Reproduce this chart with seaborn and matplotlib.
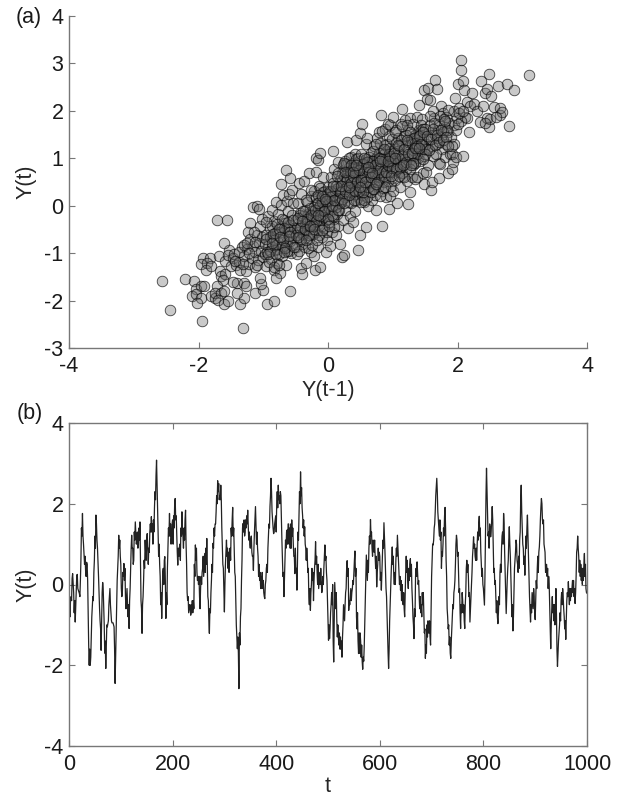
#!/usr/bin/env python3

import pandas as pd
import matplotlib
matplotlib.use('Agg')
import matplotlib.pyplot as plt
import seaborn as sns

# Y(t) against Y(t-1), one x band at a time
prev_tail = [-2.57,-2.44,-2.21,-1.94,-2.07,-2.04,-1.96,-1.91,-2.10,-2.04,
             -1.96,-2.02,-1.93,-1.96,-1.82,-1.87,-1.88,-1.81,-1.80,-1.74,
             -1.68,-1.67,-1.65,-1.59,-1.62,-1.71,-1.74,-1.66,-1.60,-1.70,
             -1.60,-1.54,-1.59,-1.53,-1.54,-1.71,-1.56,-1.60]
curr_tail = [-1.59,-2.20,-1.55,-2.43,-1.59,-1.76,-1.70,-1.70,-1.90,-1.87,
             -1.94,-2.05,-1.10,-1.23,-1.10,-1.21,-1.35,-1.28,-1.91,-1.94,
             -1.07,-1.38,-1.49,-1.45,-1.56,-1.69,-1.84,-1.83,-1.80,-1.98,
             -2.08,-2.01,-1.17,-0.93,-1.03,-0.31,-0.30,-0.78]

prev_low = [-1.36,-1.30,-1.32,-1.41,-1.41,-1.47,-1.30,-1.27,-1.13,-1.01,
            -1.04,-1.21,-1.23,-1.16,-1.09,-1.07,-1.50,-1.46,-1.42,-1.45,
            -1.38,-1.36,-1.33,-1.30,-1.27,-1.25,-1.22,-1.20,-1.18,-1.16,
            -1.13,-1.12,-1.10,-1.08,-1.06,-1.05,-1.03,-1.02,-1.00,-1.32,
            -1.37,-1.30,-1.43,-1.25,-1.15,-1.10,-1.05,-1.22,-1.13,-1.02]
curr_low = [-2.08,-1.94,-2.57,-1.83,-1.63,-1.60,-1.62,-1.70,-1.83,-1.77,
            -1.66,-0.37,-0.56,-0.02,-0.01,-0.06,-1.28,-1.10,-1.25,-1.02,
            -1.18,-1.35,-0.88,-1.05,-1.38,-0.92,-1.22,-0.70,-1.10,-0.85,
            -1.30,-0.98,-0.62,-1.15,-0.78,-0.42,-0.95,-0.65,-1.08,-1.22,
            -0.98,-0.82,-1.16,-0.78,-0.55,-1.25,-1.52,-1.0,-0.76,-0.28]

prev_c = [-0.98,-0.96,-0.95,-0.93,-0.92,-0.90,-0.88,-0.87,-0.85,-0.84,
          -0.83,-0.82,-0.80,-0.79,-0.78,-0.77,-0.75,-0.74,-0.73,-0.72,
          -0.71,-0.70,-0.69,-0.68,-0.67,-0.66,-0.65,-0.64,-0.63,-0.62,
          -0.61,-0.60,-0.60,-0.58,-0.57,-0.56,-0.55,-0.54,-0.53,-0.52,
          -0.98,-0.94,-0.90,-0.86,-0.82,-0.78,-0.74,-0.70,-0.66,-0.62,
          -0.96,-0.91,-0.87,-0.83,-0.79,-0.76,-0.71,-0.68,-0.64,-0.59,
          -0.80,-0.94,-0.84,-0.59,-0.65,-0.59,-0.73,-0.55,-0.84,-0.76]
curr_c = [-1.02,-0.62,-1.28,-0.21,-0.85,-0.47,-1.12,-0.08,-0.70,-1.36,
          -0.33,-0.94,0.08,-0.55,-1.20,-0.18,-0.78,-1.42,0.02,-0.42,
          -1.05,-0.66,0.22,-0.30,-0.88,-0.52,-1.24,0.10,-0.74,-0.12,
          -0.96,-0.40,0.24,-0.62,-1.00,-0.20,-0.82,0.05,-0.48,-0.68,
          -0.80,-0.98,-0.66,-0.42,-0.58,-0.92,-0.56,-0.84,-0.36,-0.50,
          -0.35,-1.18,-0.88,-0.72,-0.38,-1.02,-0.28,-0.46,-0.96,-0.75,
          -1.52,-2.08,-2.01,-1.80,0.75,0.59,0.45,0.33,-1.30,-1.25]

prev_d = [-0.50,-0.49,-0.48,-0.47,-0.46,-0.45,-0.44,-0.43,-0.42,-0.41,
          -0.40,-0.39,-0.38,-0.37,-0.36,-0.35,-0.34,-0.33,-0.32,-0.31,
          -0.30,-0.29,-0.28,-0.27,-0.26,-0.25,-0.24,-0.23,-0.22,-0.21,
          -0.20,-0.20,-0.19,-0.19,-0.18,-0.17,-0.16,-0.15,-0.15,-0.14,
          -0.13,-0.12,-0.11,-0.10,-0.09,-0.08,-0.07,-0.06,-0.05,-0.04,
          -0.03,-0.02,-0.01,-0.48,-0.44,-0.40,-0.36,-0.31,-0.27,-0.22,
          -0.18,-0.14,-0.10,-0.06,-0.03,-0.45,-0.38,-0.33,-0.28,-0.24,
          -0.19,-0.16,-0.12,-0.08,-0.05,-0.02,-0.26,-0.21,-0.17,-0.11,
          -0.07,-0.04,-0.01,-0.13,-0.09,-0.23,-0.42,-0.34,-0.29,-0.16]
curr_d = [-0.86,-0.30,-1.02,0.05,-0.55,0.48,-0.72,-0.15,-1.31,-0.42,
          -1.45,-0.62,-0.22,0.52,-0.88,-0.38,-1.21,0.08,-0.52,-0.18,
          -0.70,0.68,-0.30,0.20,-0.98,-0.44,-0.12,-0.60,0.30,-1.06,
          -1.35,-0.25,0.71,1.01,-0.55,0.05,-0.38,0.97,-0.86,0.42,
          -1.29,1.12,-0.30,0.15,-0.65,0.60,-0.10,-0.46,0.32,-0.20,
          -0.97,0.10,-0.72,-0.46,-0.20,-0.80,-0.12,-0.90,-0.60,-0.02,
          -0.16,-0.62,-0.42,0.18,-0.30,-0.95,-0.58,-0.34,-0.05,-0.82,
          0.18,-0.04,0.38,-0.24,0.05,-0.55,0.34,-0.35,-0.72,-0.08,
          0.28,-0.10,0.24,0.02,0.08,-0.22,0.25,0.12,-0.42,0.22]

prev_e = [0.00,0.01,0.02,0.03,0.04,0.05,0.06,0.07,0.08,0.09,
          0.10,0.11,0.12,0.13,0.14,0.15,0.16,0.17,0.18,0.19,
          0.20,0.21,0.22,0.23,0.24,0.25,0.26,0.27,0.28,0.29,
          0.30,0.31,0.32,0.33,0.34,0.35,0.36,0.37,0.38,0.39,
          0.40,0.41,0.42,0.43,0.44,0.45,0.46,0.47,0.48,0.49,
          0.02,0.05,0.08,0.11,0.14,0.17,0.20,0.23,0.26,0.29,
          0.32,0.35,0.38,0.41,0.44,0.47,0.03,0.07,0.12,0.16,
          0.21,0.25,0.28,0.33,0.37,0.42,0.46,0.49,0.06,0.10,
          0.15,0.19,0.24,0.31,0.36,0.40,0.43,0.47,0.27,0.34,
          0.50,0.48,0.46,0.44,0.42,0.40,0.38,0.36,0.34,0.30]
curr_e = [0.40,-0.35,0.12,-0.85,0.60,-0.12,-0.55,1.15,0.22,-0.28,
          0.78,0.02,-0.62,0.35,-0.18,0.92,-0.42,0.15,0.55,-0.80,
          0.08,-1.09,0.70,-0.30,0.42,-1.03,0.95,-0.08,0.58,1.34,
          0.22,-0.48,0.82,0.45,-0.22,1.02,0.05,0.62,-0.35,0.90,
          0.30,1.08,-0.12,0.55,1.39,0.75,-0.94,0.18,0.95,1.54,
          -0.05,0.28,-0.22,0.30,0.10,-0.10,0.32,0.85,0.18,0.72,
          0.62,0.38,0.78,0.48,0.25,0.60,0.18,0.48,-0.02,0.68,
          0.52,0.62,0.88,1.00,0.28,0.82,0.42,0.70,-0.20,-0.45,
          0.38,0.06,0.90,0.08,0.70,0.58,0.98,0.82,0.36,0.72,
          0.15,0.30,1.00,0.12,0.68,0.12,0.50,0.85,0.55,0.42]

prev_f = [0.50,0.51,0.52,0.53,0.54,0.55,0.56,0.57,0.58,0.59,
          0.60,0.61,0.62,0.63,0.64,0.65,0.66,0.67,0.68,0.69,
          0.70,0.71,0.72,0.73,0.74,0.75,0.76,0.77,0.78,0.79,
          0.80,0.81,0.82,0.83,0.84,0.85,0.86,0.87,0.88,0.89,
          0.90,0.91,0.92,0.93,0.94,0.95,0.96,0.97,0.98,0.99,
          0.52,0.55,0.58,0.61,0.64,0.67,0.70,0.73,0.76,0.79,
          0.82,0.85,0.88,0.91,0.94,0.97,0.54,0.57,0.60,0.63,
          0.66,0.69,0.72,0.75,0.78,0.81,0.84,0.87,0.90,0.93,
          0.96,0.99,0.83,0.86,0.89,0.92,0.95,0.98,0.74,0.77,
          0.51,0.56,0.62,0.68,0.71,0.80,0.88,0.94,0.97,0.99]
curr_f = [-0.62,1.10,0.22,1.73,0.58,0.08,0.90,0.35,1.30,-0.44,
          1.43,0.62,0.00,0.95,0.30,0.75,1.12,0.48,0.12,0.85,
          0.52,1.25,0.22,0.98,-0.08,0.68,1.42,0.40,0.82,1.55,
          0.60,1.00,1.92,0.30,-0.43,1.18,0.75,0.50,1.62,0.90,
          0.18,1.30,0.65,1.05,-0.07,0.82,1.70,0.42,1.15,0.58,
          0.42,0.72,0.98,0.18,1.02,0.82,0.95,0.62,1.02,1.12,
          0.85,0.38,1.28,0.88,1.48,0.95,0.88,0.62,0.78,0.50,
          0.28,1.15,0.68,0.90,0.55,1.32,0.72,1.08,1.00,0.52,
          1.22,0.88,1.58,0.95,0.72,1.72,0.20,1.00,1.30,0.70,
          0.08,0.12,0.40,0.95,0.35,0.20,0.40,1.10,0.72,1.40]

prev_g = [1.00,1.01,1.02,1.03,1.04,1.05,1.06,1.07,1.08,1.09,
          1.10,1.11,1.12,1.13,1.14,1.15,1.16,1.17,1.18,1.19,
          1.20,1.21,1.22,1.23,1.24,1.25,1.26,1.27,1.28,1.29,
          1.30,1.31,1.32,1.33,1.34,1.35,1.36,1.37,1.38,1.39,
          1.40,1.41,1.42,1.43,1.44,1.45,1.46,1.47,1.48,1.49,
          1.02,1.05,1.08,1.11,1.14,1.17,1.20,1.23,1.26,1.29,
          1.32,1.35,1.38,1.41,1.44,1.47,1.03,1.07,1.12,1.18,
          1.22,1.27,1.33,1.37,1.42,1.46,1.49,1.00,1.09,1.15]
curr_g = [0.30,1.87,0.82,1.20,0.55,1.60,0.98,0.05,1.42,0.72,
          1.10,0.40,1.72,0.90,1.30,2.04,0.62,1.48,1.02,1.80,
          0.78,1.25,0.52,0.03,1.60,0.95,1.85,0.29,1.12,0.60,
          1.40,0.85,1.72,1.05,0.57,1.50,1.20,1.88,0.61,1.00,
          2.13,1.35,0.95,1.58,1.15,1.82,1.40,0.70,1.05,0.45,
          1.00,1.32,1.15,0.98,0.68,0.88,1.50,1.35,1.05,1.30,
          1.18,0.90,1.45,1.60,1.70,1.28,1.55,0.80,1.38,0.60,
          1.70,1.55,1.42,1.10,1.50,1.62,1.20,0.95,1.25,1.68]

prev_h = [1.49,1.53,1.55,1.58,1.59,1.60,1.61,1.62,1.64,1.66,
          1.68,1.69,1.70,1.71,1.72,1.73,1.74,1.75,1.76,1.78,
          1.80,1.81,1.82,1.83,1.85,1.86,1.87,1.89,1.90,1.91,
          1.91,1.93,1.94,1.95,1.96,1.97,1.98,1.99,1.95,1.52,
          1.54,1.56,1.58,1.60,1.62,1.65,1.67,1.72,1.77,1.84,
          1.50,1.53,1.57,1.63,1.68,1.73,1.79,1.86,1.92,1.52]
curr_h = [2.45,2.24,2.48,2.22,0.33,1.55,0.50,1.05,1.85,2.65,
          2.46,1.30,1.60,0.90,0.59,0.89,2.10,1.45,1.20,1.95,
          1.65,1.02,1.88,1.30,0.70,1.55,1.75,1.10,1.45,0.78,
          1.10,0.92,1.70,1.31,2.27,1.60,1.02,1.85,2.00,1.30,
          0.85,1.40,1.70,1.25,2.00,1.50,1.08,1.72,1.55,1.60,
          1.62,1.20,1.90,1.75,1.42,1.90,1.82,2.02,1.25,0.72]

prev_i = [2.00,2.02,2.05,2.06,2.08,2.09,2.10,2.12,2.14,2.15,
          2.18,2.20,2.22,2.25,2.30,2.34,2.37,2.40,2.43,2.45,
          2.46,2.48,2.49,2.50,2.52,2.56,2.63,2.65,2.66,2.68,
          2.76,2.79,2.87,3.10,2.05,2.03,2.60,2.42,2.00,2.08]
curr_i = [2.57,2.05,2.86,3.08,2.64,1.05,2.44,1.88,2.18,1.85,
          1.55,2.10,2.37,2.15,2.00,1.76,2.62,2.10,2.38,1.85,
          2.46,2.78,1.67,1.82,2.32,2.08,2.52,1.92,2.06,1.97,
          2.57,1.68,2.43,2.75,1.78,1.95,1.88,1.75,1.72,2.00]

# dense ridge through the middle of the cloud
prev_r = [-0.95,-0.9,-0.85,-0.8,-0.76,-0.7,-0.66,-0.62,-0.58,-0.54,
          -0.5,-0.47,-0.44,-0.41,-0.38,-0.35,-0.32,-0.29,-0.26,-0.23,
          -0.2,-0.18,-0.15,-0.12,-0.09,-0.06,-0.03,0.0,0.03,0.06,
          0.09,0.12,0.15,0.18,0.21,0.24,0.27,0.3,0.33,0.36,
          0.39,0.42,0.45,0.48,0.51,0.54,0.57,0.6,0.63,0.66,
          0.69,0.72,0.75,0.78,0.81,0.84,0.87,0.9,0.93,0.96,
          0.99,1.02,1.05,1.08,1.11,1.14,1.17,1.2,1.23,1.26,
          1.29,1.32,1.35,1.38,1.41,1.44,1.47,1.5,1.53,1.56,
          1.59,1.62,1.65,1.68,1.71,1.74,1.77,1.8,1.83,1.86,
          -0.92,-0.86,-0.8,-0.74,-0.68,-0.6,-0.52,-0.46,-0.4,-0.34,
          -0.28,-0.22,-0.16,-0.1,-0.04,0.02,0.08,0.14,0.2,0.26,
          0.32,0.38,0.44,0.5,0.56,0.62,0.68,0.74,0.8,0.86,
          0.92,0.98,1.04,1.1,1.16,1.22,1.28,1.34,1.4,1.46]
curr_r = [-0.7,-0.95,-0.6,-0.82,-0.5,-0.72,-0.9,-0.35,-0.55,-0.3,
          -0.62,-0.25,-0.48,-0.7,-0.12,-0.5,-0.28,-0.62,-0.2,-0.42,
          -0.1,-0.32,0.05,-0.22,0.2,-0.12,0.1,-0.28,0.3,0.0,
          0.12,0.42,-0.08,0.28,0.15,0.05,0.32,0.55,0.22,0.48,
          0.62,0.32,0.5,0.75,0.55,0.28,0.5,0.92,0.72,0.6,
          0.35,0.85,0.5,1.0,0.78,0.98,0.62,0.72,0.85,1.05,
          0.8,1.12,0.78,1.28,0.82,1.05,1.2,0.92,1.1,0.78,
          1.12,0.9,1.32,1.25,1.48,1.3,1.55,1.1,1.48,1.18,
          1.4,1.62,1.28,1.5,1.35,1.6,1.38,1.78,1.45,1.25,
          -1.02,-0.78,-1.02,-0.66,-0.98,-0.64,-0.88,-0.66,-0.32,-0.72,
          -0.42,-0.5,-0.2,-0.52,0.14,-0.42,0.42,0.62,0.42,0.72,
          0.4,0.72,0.85,0.4,1.0,0.82,0.7,0.45,0.95,1.2,
          0.95,0.62,1.0,0.62,0.85,1.38,0.85,1.22,1.22,0.98]

# Y(t) series of panel (b): turning points per hundred time steps
t_0 = [0,2,4,7,9,12,15,17,20,23,26,28,32,34,36,39,42,46,49,52,54,57,62,65,68,71,74,79,83,87,89,92,96,99]
y_0 = [-0.05,-0.8,-0.3,0.27,-0.2,-0.93,0.23,-0.1,-0.22,0.6,1.76,1.0,0.35,0.55,0.1,-2.0,-1.8,-0.3,0.6,1.72,1.1,0.2,-1.63,0.05,-1.0,-2.08,-1.05,-0.1,-0.95,-1.05,-2.45,-0.6,1.22,0.7]
t_1 = [102,104,106,109,113,116,119,121,124,126,128,131,134,137,141,144,148,151,153,156,159,162,165,169,172,175,179,182,185,187,190,194,197]
y_1 = [-0.3,0.3,0.52,-0.3,-0.5,-1.09,0.4,1.22,0.5,1.3,1.55,1.1,0.98,1.55,-1.21,0.1,0.8,1.26,0.5,1.3,1.68,1.0,1.9,3.08,1.4,0.5,-0.84,0.4,0.69,-0.84,0.4,1.76,1.0]
t_2 = [200,205,208,210,214,218,221,225,229,232,235,238,241,244,248,253,257,262,266,271,275,278,282,287,290,293,296,300]
y_2 = [1.6,2.13,1.2,0.48,1.0,1.8,0.9,1.84,-0.39,-0.6,-0.76,-0.4,-0.6,0.98,0.1,-0.6,0.3,0.77,1.14,-1.21,0.1,1.02,1.5,2.57,2.1,2.46,0.9,-0.68]
t_3 = [304,307,310,313,316,319,322,325,328,331,333,336,340,345,349,352,356,360,364,368,372,375,378,382,385,388,390,393,395,398]
y_3 = [1.1,0.4,0.7,1.4,1.91,0.8,-0.4,-1.59,-2.58,-0.8,0.1,1.51,1.3,1.84,1.0,1.2,0.35,1.93,0.9,0.1,-0.1,0.1,-0.35,0.5,1.2,1.93,2.63,1.6,1.26,1.6]
t_4 = [401,404,407,409,412,415,418,421,424,427,430,433,436,440,444,447,451,455,458,460,463,466,469,472,476,480,484,488,491,494,497]
y_4 = [2.0,2.46,2.0,2.2,0.6,-0.3,1.1,1.35,1.5,0.9,1.6,1.0,0.27,-0.14,1.7,2.79,1.7,1.43,0.6,0.69,-0.3,-0.64,0.4,-0.4,1.06,0.0,0.3,-0.2,0.0,0.98,0.3]
t_5 = [501,503,506,509,511,513,517,521,524,527,531,534,537,540,543,547,552,555,559,563,567,570,574,576,579,582,585,588,591,594,597]
y_5 = [-1.38,-1.34,-0.5,0.0,-1.92,0.05,-0.9,-1.5,-1.3,-1.8,-0.7,-0.2,0.59,-0.64,-0.3,-0.1,0.83,-0.8,-1.71,-1.4,-2.1,-1.5,0.73,0.1,0.9,1.61,0.9,1.0,0.7,-0.06,0.9]
t_6 = [600,603,608,611,614,617,620,624,628,631,634,637,640,644,648,651,655,659,663,666,669,672,676,681,684,688,691,695,698]
y_6 = [0.7,-0.14,1.53,0.3,-0.8,-2.08,-0.5,0.93,0.0,0.6,1.22,0.3,-0.14,-0.3,-0.8,0.7,-0.1,0.64,-0.4,-1.34,0.2,0.56,-0.3,-0.8,-0.2,-1.83,-1.0,-1.2,-1.5]
t_7 = [703,706,710,714,716,719,722,726,730,734,737,741,745,748,752,756,759,764,768,771,774,778,781,785,788,792,796]
y_7 = [0.98,1.5,2.63,1.4,1.6,0.4,1.0,1.91,-0.6,-1.5,-1.83,-0.5,0.1,1.22,0.3,-1.09,-0.2,-1.09,0.6,0.2,-0.93,0.3,1.18,0.6,1.0,1.69,0.5]
t_8 = [802,806,809,812,814,817,820,824,828,832,836,839,842,844,847,850,853,857,860,863,866,870,873,877,880,885,888,891,895,898]
y_8 = [-0.51,2.88,1.2,1.5,1.18,1.93,0.3,-0.3,-0.97,0.3,1.2,1.76,0.3,-0.72,0.4,1.43,0.2,-1.15,0.4,1.1,0.5,1.1,2.46,0.9,0.23,1.72,0.2,-0.93,-0.4,-0.3]
t_9 = [900,904,908,912,915,918,922,927,930,933,936,940,943,947,951,955,959,964,968,972,977,980,982,985,988,991,995,998,1000]
y_9 = [-0.87,0.4,0.93,2.13,1.5,0.9,0.5,0.02,-1.59,-0.3,-0.9,-0.1,-2.03,-1.0,-0.2,-0.6,-1.36,0.07,-0.4,0.1,-0.47,0.8,1.2,0.3,0.5,0.0,0.77,-0.1,-0.22]

# small wiggles between the turning points, same time base
jit_t_0 = [3,5,6,10,11,16,21,22,24,25,27,30,31,33,35,37,38,40,41,44,47,48,50,51,53,55,59,60,61,63,64,66,69,70,72,73,76,77,80,82,85,88,90,93,95,97,98]
jit_y_0 = [-0.35,-0.4,0.15,-0.7,-0.4,0.25,-0.3,0.1,1.4,1.2,1.2,0.5,0.7,0.2,0.5,-0.7,-1.5,-1.6,-2.0,-0.8,-0.4,0.3,1.2,0.9,1.5,0.9,-0.6,-0.9,-1.1,-0.9,-0.2,-0.1,-1.7,-1.4,-1.5,-1.0,-0.9,-0.5,-0.5,-0.9,-0.95,-1.6,-1.8,0.1,0.7,0.9,1.1]
jit_t_1 = [100,101,103,105,107,108,110,112,114,115,117,118,120,122,123,125,127,129,130,132,133,135,136,138,139,140,142,143,145,146,147,149,150,152,154,155,157,158,160,161,163,164,166,167,168,170,171,173,174,176,177,178,180,181,183,184,186,188,189,191,192,193,195,196,198,199]
jit_y_1 = [0.5,-0.1,-0.2,0.2,0.1,0.4,-0.6,-0.1,-0.8,-0.5,-0.4,-0.1,0.9,0.9,0.9,0.6,1.1,1.3,1.0,1.3,0.9,1.4,1.1,0.6,-0.4,-0.6,-0.5,-0.3,0.6,0.4,1.1,0.6,1.1,0.9,0.9,0.8,1.5,1.3,1.3,1.5,1.6,1.3,2.3,2.1,2.7,2.5,1.9,0.7,1.0,0.2,-0.5,-0.2,-0.3,0.3,0.0,0.6,0.1,-0.2,-0.5,0.9,1.4,1.2,1.2,1.5,1.2,1.5]
jit_t_2 = [201,202,203,204,206,207,209,211,212,213,215,216,217,219,220,222,223,224,226,227,228,230,231,233,234,236,237,239,240,242,243,245,246,247,249,250,251,252,254,255,256,258,259,260,261,263,264,265,267,268,269,270,272,273,274,276,277,279,280,281,283,284,285,286,288,289,291,292,294,295,297,298,299]
jit_y_2 = [1.0,1.7,1.4,2.0,1.6,1.7,0.8,0.9,0.7,0.9,0.6,1.4,1.2,1.3,1.2,1.4,1.1,1.6,1.0,0.5,-0.2,-0.3,-0.7,-0.5,-0.6,-0.5,-0.7,-0.7,-0.4,0.5,0.2,0.6,0.9,0.3,0.2,0.0,0.2,-0.3,-0.1,0.2,0.0,0.4,0.7,0.2,0.5,0.3,0.9,0.5,0.5,-0.3,-0.4,-0.9,-0.6,-0.7,-0.2,0.5,0.3,0.9,1.4,1.2,1.5,1.8,2.2,2.0,2.3,2.5,2.2,2.1,2.1,1.4,0.5,0.4,-0.2]
jit_t_3 = [301,302,303,305,306,308,309,311,312,314,315,317,318,320,321,323,324,326,327,329,330,332,334,335,337,338,339,341,342,343,344,346,347,348,350,351,353,354,355,357,358,359,361,362,363,365,366,367,369,370,371,373,374,376,377,379,380,381,383,384,386,387,389,391,392,394,396,397,399,400]
jit_y_3 = [0.0,0.5,0.8,0.7,0.9,0.8,0.3,0.9,0.6,1.2,1.6,1.2,1.4,0.3,0.2,-1.0,-1.3,-1.3,-1.7,-1.2,-1.5,-0.6,0.6,1.4,1.3,1.6,1.2,1.6,1.4,1.7,1.5,1.5,1.1,1.3,0.9,1.1,0.8,0.7,0.7,0.9,1.3,1.6,1.5,1.0,1.3,0.7,0.2,0.5,0.3,-0.1,0.2,0.3,-0.1,-0.2,-0.3,0.0,0.1,0.4,0.3,0.9,1.5,1.4,2.2,2.3,1.8,1.4,1.3,1.5,1.7,1.3]
jit_t_4 = [402,403,405,406,408,410,411,413,414,416,417,419,420,422,423,425,426,428,429,431,432,434,435,437,438,439,441,442,443,445,446,448,449,450,452,453,454,456,457,459,461,462,464,465,467,468,470,471,473,474,475,477,478,479,481,482,483,485,486,487,489,490,492,493,495,496,498,499,500]
jit_y_4 = [2.3,1.9,2.1,2.2,2.3,1.6,1.1,0.2,0.3,0.2,0.8,0.9,1.3,1.0,1.5,1.0,1.4,1.5,0.9,1.2,1.4,0.7,0.7,0.9,0.3,0.4,0.5,1.3,1.1,2.3,2.0,2.2,2.4,1.9,1.4,1.6,1.2,1.0,0.9,0.9,0.3,0.4,-0.5,-0.1,-0.2,0.0,0.1,0.3,0.1,0.4,0.6,0.5,0.7,0.3,0.5,-0.1,0.1,0.0,0.4,0.1,-0.1,0.2,0.4,0.7,0.6,0.7,0.1,-0.4,-0.8]
jit_t_5 = [502,504,505,507,508,510,512,514,515,516,518,519,520,522,523,525,526,528,529,530,532,533,535,536,538,539,541,542,544,545,546,548,549,550,551,553,554,556,557,558,560,561,562,564,565,566,568,569,571,572,573,575,577,578,580,581,583,584,586,587,589,590,592,593,595,596,598,599]
jit_y_5 = [-1.0,-1.1,-0.7,-0.2,-0.5,-1.4,-0.9,-0.3,-0.6,-0.2,-1.3,-1.0,-1.3,-1.2,-1.6,-1.6,-1.4,-1.3,-1.0,-0.5,-0.9,-0.5,-0.1,0.4,0.2,0.4,-0.4,-0.5,-0.1,-0.4,-0.2,0.1,0.0,0.3,0.6,0.2,0.4,-1.1,-0.7,-1.4,-1.2,-1.7,-1.2,-1.8,-1.5,-1.9,-1.8,-1.9,-1.0,-0.4,0.2,0.4,0.6,0.3,1.2,1.0,1.2,1.3,0.7,1.1,0.8,1.1,0.4,0.7,0.3,0.5,0.6,0.8]
jit_t_6 = [601,602,604,605,606,607,609,610,612,613,615,616,618,619,621,622,623,625,626,627,629,630,632,633,635,636,638,639,641,642,643,645,646,647,649,650,652,653,654,656,657,658,660,661,662,664,665,667,668,670,671,673,674,675,677,678,679,680,682,683,685,686,687,689,690,692,693,694,696,697,699,700,701,702]
jit_y_6 = [0.1,0.3,0.3,0.8,1.1,0.9,1.2,0.8,-0.1,-0.3,-1.3,-1.7,-1.6,-0.9,-0.1,0.3,0.6,0.5,0.7,0.2,0.3,0.0,0.9,0.7,0.9,0.6,0.0,0.2,0.1,-0.4,0.0,-0.5,-0.2,-0.6,-0.2,0.3,0.3,0.6,0.1,0.4,0.1,0.5,0.2,0.5,-0.1,-0.8,-1.0,-0.6,-0.8,0.4,0.2,0.3,0.0,0.1,-0.6,-0.3,-0.7,-0.5,-0.2,-0.5,-0.7,-1.2,-1.1,-1.5,-1.7,-1.3,-0.9,-1.2,-0.9,-1.3,-0.6,0.2,0.6,1.0]
jit_t_7 = [704,705,707,708,709,711,712,713,715,717,718,720,721,723,724,725,727,728,729,731,732,733,735,736,738,739,740,742,743,744,746,747,749,750,751,753,754,755,757,758,760,761,762,763,765,766,767,769,770,772,773,775,776,777,779,780,782,783,784,786,787,789,790,791,793,794,795,797,798,799,800,801]
jit_y_7 = [1.1,1.4,1.8,2.2,2.4,2.3,1.8,1.6,1.2,1.1,1.3,0.8,0.7,1.4,1.2,1.7,1.4,0.6,0.2,-0.8,-1.1,-1.0,-1.3,-1.7,-1.4,-1.1,-0.8,-0.6,-0.2,-0.1,0.5,1.0,1.1,0.7,0.8,-0.2,-0.1,-0.7,-0.5,-0.7,-0.4,-0.7,-0.5,-0.9,-0.5,-0.2,0.4,0.3,0.5,-0.3,-0.2,-0.6,-0.3,0.0,0.7,0.9,0.9,1.0,0.7,0.9,0.6,1.3,1.1,1.5,1.2,1.4,0.8,0.2,0.4,0.0,-0.1,-0.3]
jit_t_8 = [803,804,805,807,808,810,811,813,815,816,818,819,821,822,823,825,826,827,829,830,831,833,834,835,837,838,840,841,843,845,846,848,849,851,852,854,855,856,858,859,861,862,864,865,867,868,869,871,872,874,875,876,878,879,881,882,883,884,886,887,889,890,892,893,894,896,897,899]
jit_y_8 = [0.2,1.2,2.2,2.3,1.6,1.3,0.9,1.4,1.3,1.6,1.6,0.9,0.4,0.0,0.1,-0.7,-0.4,-0.8,-0.7,-0.3,-0.5,0.5,0.3,0.9,1.3,1.0,1.5,0.8,-0.2,-0.3,0.1,0.6,1.1,1.0,0.7,-0.2,-0.8,-0.5,-0.8,-0.2,0.6,0.8,1.0,0.6,0.3,0.7,0.4,1.3,2.1,1.8,1.4,1.0,0.5,0.7,0.7,1.2,0.9,1.4,1.2,0.7,-0.3,-0.6,-0.5,-0.7,-0.2,-0.6,-0.1,-0.7]
jit_t_9 = [901,902,903,905,906,907,909,910,911,913,914,916,917,919,920,921,923,924,925,926,928,929,931,932,934,935,937,938,939,941,942,944,945,946,948,949,950,952,953,954,956,957,958,960,961,962,963,965,966,967,969,970,971,973,974,975,976,978,979,981,983,984,986,987,989,990,992,993,994,996,997,999]
jit_y_9 = [-0.4,0.1,-0.1,0.7,0.3,0.8,1.2,1.6,1.9,2.0,1.6,1.6,1.0,0.8,0.3,0.4,0.2,0.4,-0.1,0.2,-0.6,-1.1,-1.0,-0.6,-0.7,-0.5,-0.5,-1.0,-0.6,-0.7,-1.6,-1.7,-1.4,-1.2,-0.7,-0.9,-0.4,-0.5,-0.1,-0.3,-0.8,-1.1,-0.9,-0.9,-0.4,-0.2,-0.3,-0.2,-0.5,-0.1,-0.1,-0.3,-0.1,-0.2,0.1,-0.3,-0.1,-0.2,0.2,0.9,0.9,0.7,0.6,0.2,0.1,0.4,0.4,0.1,0.5,0.2,0.5,-0.2]

top_xticks = [-4, -2, 0, 2, 4]
top_yticks = [-3, -2, -1, 0, 1, 2, 3, 4]
bottom_xticks = [0, 200, 400, 600, 800, 1000]
bottom_yticks = [-4, -2, 0, 2, 4]

scatter_df = pd.DataFrame({
    'prev': prev_tail + prev_low + prev_c + prev_d + prev_e + prev_f + prev_g + prev_h + prev_i + prev_r,
    'curr': curr_tail + curr_low + curr_c + curr_d + curr_e + curr_f + curr_g + curr_h + curr_i + curr_r,
})
series_df = pd.DataFrame({
    't': t_0 + t_1 + t_2 + t_3 + t_4 + t_5 + t_6 + t_7 + t_8 + t_9
         + jit_t_0 + jit_t_1 + jit_t_2 + jit_t_3 + jit_t_4 + jit_t_5 + jit_t_6 + jit_t_7 + jit_t_8 + jit_t_9,
    'y': y_0 + y_1 + y_2 + y_3 + y_4 + y_5 + y_6 + y_7 + y_8 + y_9
         + jit_y_0 + jit_y_1 + jit_y_2 + jit_y_3 + jit_y_4 + jit_y_5 + jit_y_6 + jit_y_7 + jit_y_8 + jit_y_9,
}).sort_values('t')

sns.set_style('white')
plt.rcParams['font.family'] = ['Liberation Sans', 'DejaVu Sans']
plt.rcParams['text.color'] = '#1a1a1a'
plt.rcParams['axes.unicode_minus'] = False

W, H = 618, 797
FONT = 15.5
fig = plt.figure(figsize=(W / 100, H / 100), dpi=100)


def panel(left, right, top, bottom):
    return fig.add_axes([left / W, 1 - bottom / H, (right - left) / W, (bottom - top) / H])


def style_axes(ax, xticks, yticks):
    ax.set_xticks(xticks)
    ax.set_yticks(yticks)
    ax.tick_params(direction='in', length=4, width=0.8, color='#777777',
                   labelsize=FONT, labelcolor='#1a1a1a', bottom=True, left=True)
    ax.tick_params(axis='x', pad=6)
    ax.tick_params(axis='y', pad=4)
    for s in ax.spines.values():
        s.set_color('#777777')
        s.set_linewidth(1.0)


# panel (a): lag scatter
ax1 = panel(69, 587, 16, 348)
sns.scatterplot(data=scatter_df, x='prev', y='curr', ax=ax1, s=58,
                color=(0.42, 0.42, 0.42, 0.36), edgecolor=(0, 0, 0, 0.72),
                linewidth=0.6)
ax1.set_xlim(-4, 4)
ax1.set_ylim(-3, 4)
style_axes(ax1, top_xticks, top_yticks)
ax1.spines['top'].set_visible(False)
ax1.spines['right'].set_visible(False)
ax1.set_xlabel('Y(t-1)', fontsize=FONT, va='center')
ax1.set_ylabel('Y(t)', fontsize=FONT, va='center')
ax1.xaxis.set_label_coords(0.5, -43 / 332)
ax1.yaxis.set_label_coords(-43 / 518, 0.5)

# panel (b): the series itself
ax2 = panel(69, 587, 423, 746)
sns.lineplot(data=series_df, x='t', y='y', ax=ax2, estimator=None, sort=False,
             color='#222222', linewidth=0.9)
ax2.set_xlim(0, 1000)
ax2.set_ylim(-4, 4)
style_axes(ax2, bottom_xticks, bottom_yticks)
ax2.tick_params(top=True, right=True)
ax2.set_xlabel('t', fontsize=FONT, va='center')
ax2.set_ylabel('Y(t)', fontsize=FONT, va='center')
ax2.xaxis.set_label_coords(0.5, -40 / 323)
ax2.yaxis.set_label_coords(-43 / 518, 0.5)

fig.text(16 / W, 1 - 17 / H, '(a)', fontsize=FONT, va='center')
fig.text(17 / W, 1 - 413 / H, '(b)', fontsize=FONT, va='center')

fig.savefig('out.png', dpi=100)
